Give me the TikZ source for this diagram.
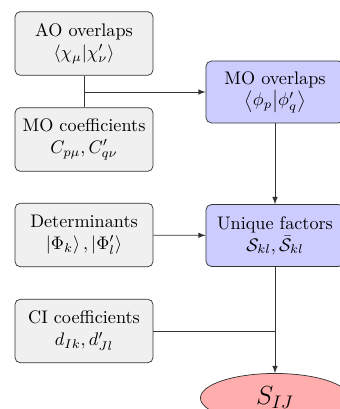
\documentclass[tikz,border=0pt]{standalone}
\usepackage{amsmath}
\usepackage{amssymb}
\usetikzlibrary{shapes.geometric, arrows, positioning, calc}

\begin{document}
\begin{tikzpicture}[x=0.55pt, y=-0.55pt,
  inbox/.style={rectangle, rounded corners=3pt, draw=black!80, fill=black!6, minimum width=76pt, minimum height=35pt, align=center, inner sep=1pt},
  midbox/.style={rectangle, rounded corners=3pt, draw=black!80, fill=blue!20, minimum width=76pt, minimum height=34pt, align=center, inner sep=1pt},
  link/.style={draw=black!80, thin},
  arr/.style={link, -latex}]
\useasboundingbox (0,0) rectangle (340,409);
% inputs
\node[inbox] (ao) at (84,43.5) {AO overlaps\\$\langle \chi_\mu | \chi'_\nu \rangle$};
\node[inbox] (moc) at (84,139.5) {MO coefficients\\$C_{p\mu}, C'_{q\nu}$};
\node[inbox] (det) at (84,235) {Determinants\\$\left|\Phi_k\right\rangle, \left|\Phi'_l\right\rangle$};
\node[inbox] (ci) at (84,331) {CI coefficients\\$d_{Ik}, d'_{Jl}$};
% intermediate results
\node[midbox] (mo) at (275,92) {MO overlaps\\$\left\langle \phi_p \middle| \phi'_q \right\rangle$};
\node[midbox] (uf) at (275,235.5) {Unique factors\\$\mathcal{S}_{kl}, \bar{\mathcal{S}}_{kl}$};
% final overlap
\node[ellipse, draw=black!80, fill=red!32, minimum width=82pt, minimum height=27pt, inner sep=1pt] (sij) at (275,398) {\Large $S_{IJ}$};

\coordinate (j1) at (84,92);
\draw[link] (ao) -- (moc);
\draw[arr] (j1) -- (mo);
\draw[arr] (mo) -- (uf);
\draw[arr] (det) -- (uf);
\draw[arr] (uf) -- (sij);
\draw[link] (ci.east) -- (ci -| uf);
\end{tikzpicture}
\end{document}
